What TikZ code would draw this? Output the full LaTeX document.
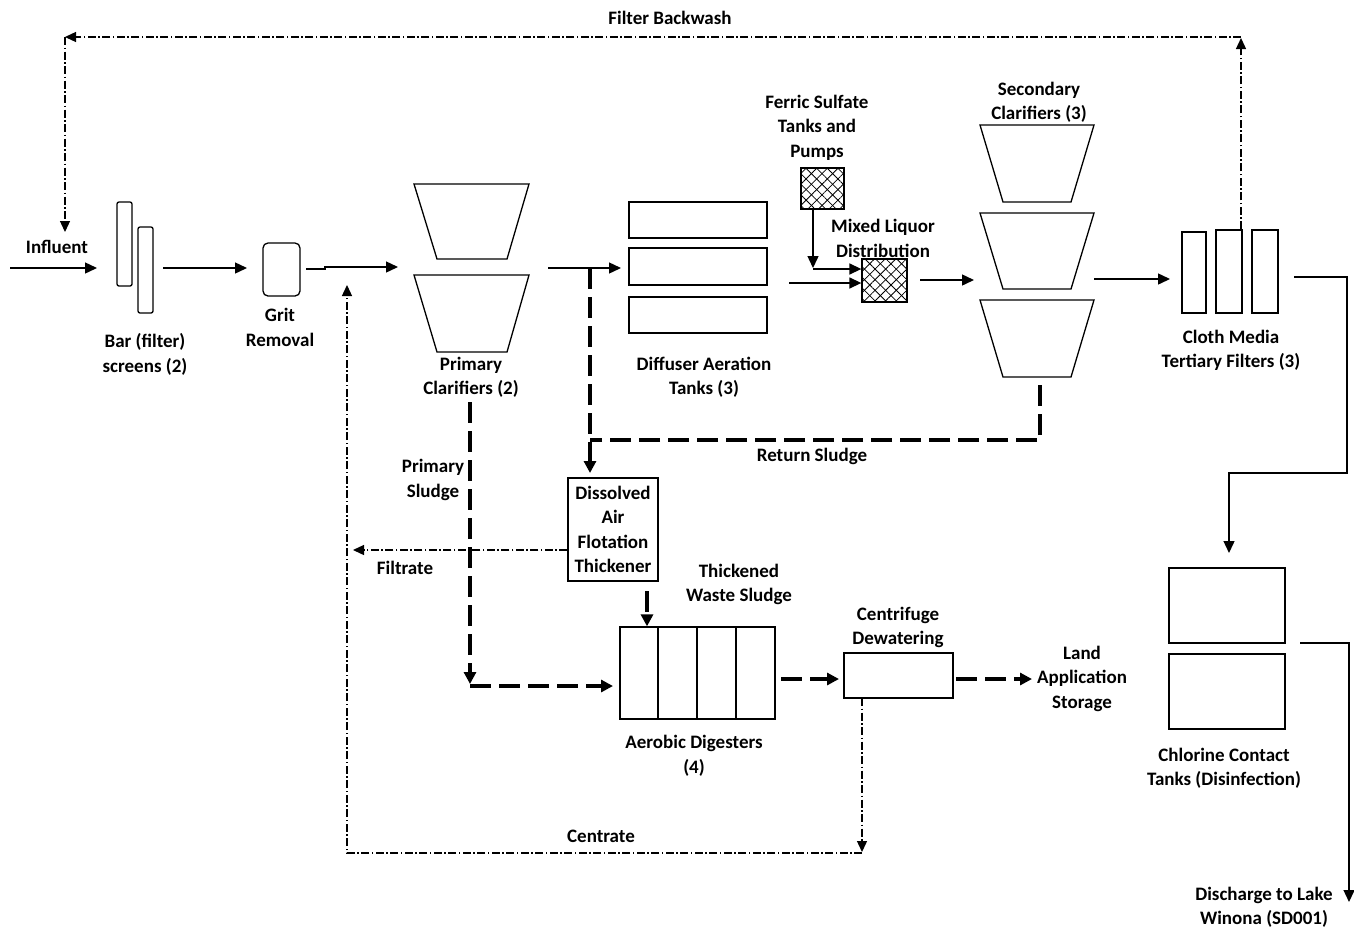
\documentclass[tikz,border=0pt]{standalone}
\usepackage{fontspec}
\setmainfont{Carlito}
\usetikzlibrary{arrows.meta,patterns.meta}
\begin{document}
\begin{tikzpicture}[x=1pt,y=-1pt,
 lbl/.style={font=\fontsize{19}{24.5}\selectfont\bfseries, align=center, inner sep=0pt},
 unit/.style={draw, line width=1.3pt, inner sep=0pt},
 flow/.style={line width=1.4pt, -{Triangle[length=12pt,width=11pt]}},
 plain/.style={line width=1.4pt},
 sludge/.style={line width=3.2pt, dash pattern=on 21pt off 8pt},
 sludgearrow/.style={sludge, -{Triangle[length=12pt,width=12pt]}},
 recyc/.style={line width=1.3pt, dash pattern=on 8pt off 2.5pt on 1.5pt off 2.5pt},
 recycarrow/.style={recyc, -{Triangle[length=11pt,width=10pt]}},
 hatch/.style={unit, pattern={Lines[angle=45,distance=7.5pt,line width=0.8pt]},
   postaction={pattern={Lines[angle=-45,distance=7.5pt,line width=0.8pt]}}},
 trap/.style={line width=1.3pt, line join=miter},
]
\useasboundingbox (0,0) rectangle (1354,932);

% ---------- units ----------
\node[unit, rounded corners=2pt, minimum width=15pt, minimum height=84pt] (bar1) at (124.5,244) {};
\node[unit, rounded corners=2pt, minimum width=15pt, minimum height=86pt] (bar2) at (145.5,270) {};
\node[unit, rounded corners=5pt, minimum width=37pt, minimum height=53pt] (grit) at (281.5,269.5) {};

% primary clarifiers
\draw[trap] (414,184) -- (529,184) -- (507,259) -- (437,259) -- cycle;
\draw[trap] (414,275) -- (529,275) -- (507,352) -- (437,352) -- cycle;

% aeration tanks
\node[unit, minimum width=138pt, minimum height=36pt] (at1) at (698,220) {};
\node[unit, minimum width=138pt, minimum height=37pt] (at2) at (698,266.5) {};
\node[unit, minimum width=138pt, minimum height=36pt] (at3) at (698,315) {};

% ferric sulfate and mixed liquor
\node[hatch, minimum width=43pt, minimum height=41pt] (ferric) at (822.5,188.5) {};
\node[hatch, minimum width=45pt, minimum height=43pt] (mixed) at (884.5,280.5) {};

% secondary clarifiers
\foreach \t/\b in {125/202, 213/289, 300/377}
  \draw[trap] (980,\t) -- (1094,\t) -- (1071,\b) -- (1003,\b) -- cycle;

% tertiary filters
\node[unit, minimum width=24pt, minimum height=81pt] (f1) at (1194,272.5) {};
\node[unit, minimum width=26pt, minimum height=83pt] (f2) at (1229,271.5) {};
\node[unit, minimum width=26pt, minimum height=83pt] (f3) at (1265,271.5) {};

% chlorine contact tanks
\node[unit, minimum width=116pt, minimum height=75pt] (ct1) at (1227,605.5) {};
\node[unit, minimum width=116pt, minimum height=75pt] (ct2) at (1227,691.5) {};

% DAF
\node[unit, lbl, minimum width=90pt, minimum height=103pt] (daf) at (613,529.5)
  {Dissolved\\Air\\Flotation\\Thickener};

% aerobic digesters
\node[unit, minimum width=155pt, minimum height=92pt] (dig) at (697.5,673) {};
\foreach \x in {658,697,736}
  \draw[line width=1.3pt] (\x,627) -- (\x,719);

% centrifuge
\node[unit, minimum width=109pt, minimum height=45pt] (cf) at (898.5,675.5) {};

% ---------- labels ----------
\node[lbl] (lFB) at (670,18) {Filter Backwash};
\node[lbl] (lInf) at (57,247) {Influent};
\node[lbl] (lBar) at (145,354.5) {Bar (filter)\\screens (2)};
\node[lbl] (lGrit) at (280,327.5) {Grit\\Removal};
\node[lbl] (lPC) at (471,377.5) {Primary\\Clarifiers (2)};
\node[lbl] (lAT) at (704,377.5) {Diffuser Aeration\\Tanks (3)};
\node[lbl] (lFS) at (817,127.7) {Ferric Sulfate\\Tanks and\\Pumps};
\node[lbl] (lML) at (883,238.5) {Mixed Liquor\\Distribution};
\node[lbl] (lSC) at (1039,102.5) {Secondary\\Clarifiers (3)};
\node[lbl] (lTF) at (1231,350.5) {Cloth Media\\Tertiary Filters (3)};
\node[lbl] (lRS) at (812,456) {Return Sludge};
\node[lbl] (lPS) at (433,480) {Primary\\Sludge};
\node[lbl] (lFil) at (405,568) {Filtrate};
\node[lbl] (lTWS) at (739,584.5) {Thickened\\Waste Sludge};
\node[lbl] (lAD) at (694,756) {Aerobic Digesters\\(4)};
\node[lbl] (lCD) at (898,627.5) {Centrifuge\\Dewatering};
\node[lbl] (lLA) at (1082,678.7) {Land\\Application\\Storage};
\node[lbl] (lCen) at (601,836) {Centrate};
\node[lbl] (lCT) at (1224,768.5) {Chlorine Contact\\Tanks (Disinfection)};
\node[lbl] (lDis) at (1264,907.5) {Discharge to Lake\\Winona (SD001)};

% ---------- coordinates ----------
\coordinate (inA) at (10,268);
\coordinate (inB) at (97,268);
\coordinate (scrOut) at (163,268);
\coordinate (gritIn) at (247,268);
\coordinate (gritOut) at (306,269);
\coordinate (jog1) at (325,269);
\coordinate (jog2) at (325,267);
\coordinate (pcIn) at (398,267);
\coordinate (pcOut) at (548,268);
\coordinate (split) at (590,268);
\coordinate (atIn) at (621,268);
\coordinate (fsCorner) at (813,268);
\coordinate (fsH) at (813,269);
\coordinate (atOut) at (789,283);
\coordinate (mlOut) at (920,280);
\coordinate (scIn) at (974,280);
\coordinate (scOut) at (1094,279);
\coordinate (tfIn) at (1170,279);
\coordinate (tfOut) at (1294,277);
\coordinate (r1) at (1347,277);
\coordinate (r2) at (1347,473);
\coordinate (r3) at (1229,473);
\coordinate (ctIn) at (1229,553);
\coordinate (ctOut) at (1300,643);
\coordinate (d1) at (1349,643);
\coordinate (dis) at (1349,902);
\coordinate (bwTop) at (1241,38);
\coordinate (bwR) at (1241,37);
\coordinate (bwL) at (65,37);
\coordinate (bwDown) at (65,232);
\coordinate (rsTop) at (1040,385);
\coordinate (rsCorner) at (1040,440);
\coordinate (rsLeft) at (590,440);
\coordinate (dafIn) at (590,473);
\coordinate (psTop) at (470,402);
\coordinate (psCorner) at (470,684);
\coordinate (psH) at (470,686);
\coordinate (psEnd) at (613,686);
\coordinate (filtEnd) at (353,550);
\coordinate (twsA) at (647,591);
\coordinate (digOut) at (781,679);
\coordinate (cfIn) at (839,679);
\coordinate (cfOut) at (956,679);
\coordinate (laIn) at (1032,679);
\coordinate (cenTop) at (862,698);
\coordinate (cenDown) at (862,852);
\coordinate (cenH) at (862,853);
\coordinate (cenL) at (347,853);
\coordinate (cenUp) at (347,285);

% ---------- main flow ----------
\draw[flow] (inA) -- (inB);
\draw[flow] (scrOut) -- (gritIn);
\draw[flow] (gritOut) -- (jog1) -- (jog2) -- (pcIn);
\draw[flow] (pcOut) -- (atIn);
\draw[flow] (ferric.south -| fsCorner) -- (fsCorner);
\draw[flow] (fsH) -- (mixed.west |- fsH);
\draw[flow] (atOut) -- (mixed.west |- atOut);
\draw[flow] (mlOut) -- (scIn);
\draw[flow] (scOut) -- (tfIn);
\draw[flow] (tfOut) -- (r1) -- (r2) -- (r3) -- (ctIn);
\draw[flow] (ctOut) -- (d1) -- (dis);

% ---------- filter backwash ----------
\draw[recycarrow] (f2.north -| bwR) -- (bwTop);
\draw[recycarrow] (bwR) -- (bwL);
\draw[recycarrow] (bwL) -- (bwDown);

% ---------- sludge lines ----------
\draw[sludge] (rsTop) -- (rsCorner) -- (rsLeft);
\draw[sludgearrow] (split) -- (dafIn);
\draw[sludgearrow] (psTop) -- (psCorner);
\draw[sludgearrow] (psH) -- (psEnd);
\draw[sludgearrow] (twsA) -- (dig.north -| twsA);
\draw[sludgearrow] (digOut) -- (cfIn);
\draw[sludgearrow] (cfOut) -- (laIn);

% ---------- filtrate and centrate ----------
\draw[recycarrow] (daf.west |- filtEnd) -- (filtEnd);
\draw[recycarrow] (cenTop) -- (cenDown);
\draw[recycarrow] (cenH) -- (cenL) -- (cenUp);
\end{tikzpicture}
\end{document}
